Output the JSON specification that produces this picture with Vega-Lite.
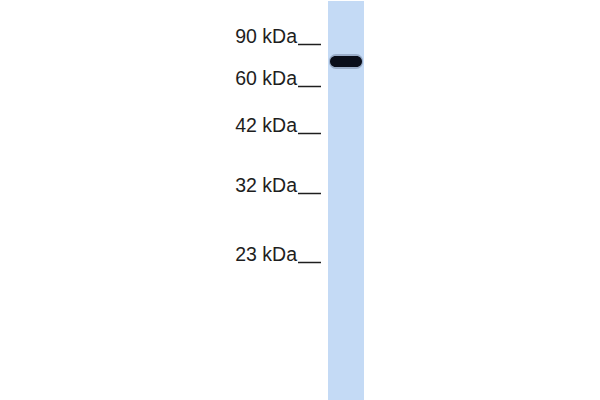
{
  "$schema": "https://vega.github.io/schema/vega-lite/v6.json",
  "width": 600,
  "height": 400,
  "autosize": {"type": "fit", "contains": "padding"},
  "padding": 0,
  "background": "white",
  "config": {"view": {"stroke": null}},
  "datasets": {
    "lane": [{"lane": "sample", "left": 328, "right": 364, "top": 1, "bottom": 400}],
    "bands": [{"lane": "sample", "left": 330, "right": 362, "top": 56, "bottom": 67}],
    "markers": [
      {"label": "90 kDa", "migration": 43},
      {"label": "60 kDa", "migration": 85},
      {"label": "42 kDa", "migration": 132},
      {"label": "32 kDa", "migration": 192},
      {"label": "23 kDa", "migration": 261}
    ]
  },
  "layer": [
    {
      "data": {"name": "lane"},
      "mark": {"type": "rect", "color": "#c4daf5"},
      "encoding": {
        "x": {"field": "left", "type": "quantitative", "scale": {"domain": [0, 600]}, "axis": null},
        "x2": {"field": "right"},
        "y": {"field": "top", "type": "quantitative", "scale": {"domain": [0, 400], "reverse": true}, "axis": null},
        "y2": {"field": "bottom"}
      }
    },
    {
      "data": {"name": "bands"},
      "mark": {"type": "rect", "color": "#3a4a66", "opacity": 0.3, "cornerRadius": 7, "xOffset": -1, "x2Offset": 1, "yOffset": -2, "y2Offset": 2},
      "encoding": {
        "x": {"field": "left", "type": "quantitative"},
        "x2": {"field": "right"},
        "y": {"field": "top", "type": "quantitative"},
        "y2": {"field": "bottom"}
      }
    },
    {
      "data": {"name": "bands"},
      "mark": {"type": "rect", "color": "#0a0e1a", "cornerRadius": 5.5},
      "encoding": {
        "x": {"field": "left", "type": "quantitative"},
        "x2": {"field": "right"},
        "y": {"field": "top", "type": "quantitative"},
        "y2": {"field": "bottom"}
      }
    },
    {
      "data": {"name": "markers"},
      "mark": {"type": "text", "align": "right", "baseline": "alphabetic", "font": "Liberation Sans", "fontSize": 19.5, "color": "#1e1e1e", "x": 297},
      "encoding": {
        "y": {"field": "migration", "type": "quantitative"},
        "text": {"field": "label"}
      }
    },
    {
      "data": {"name": "markers"},
      "mark": {"type": "rule", "color": "#1e1e1e", "strokeWidth": 1.5, "x": 298, "x2": 321, "yOffset": 1.5},
      "encoding": {
        "y": {"field": "migration", "type": "quantitative"}
      }
    }
  ]
}
